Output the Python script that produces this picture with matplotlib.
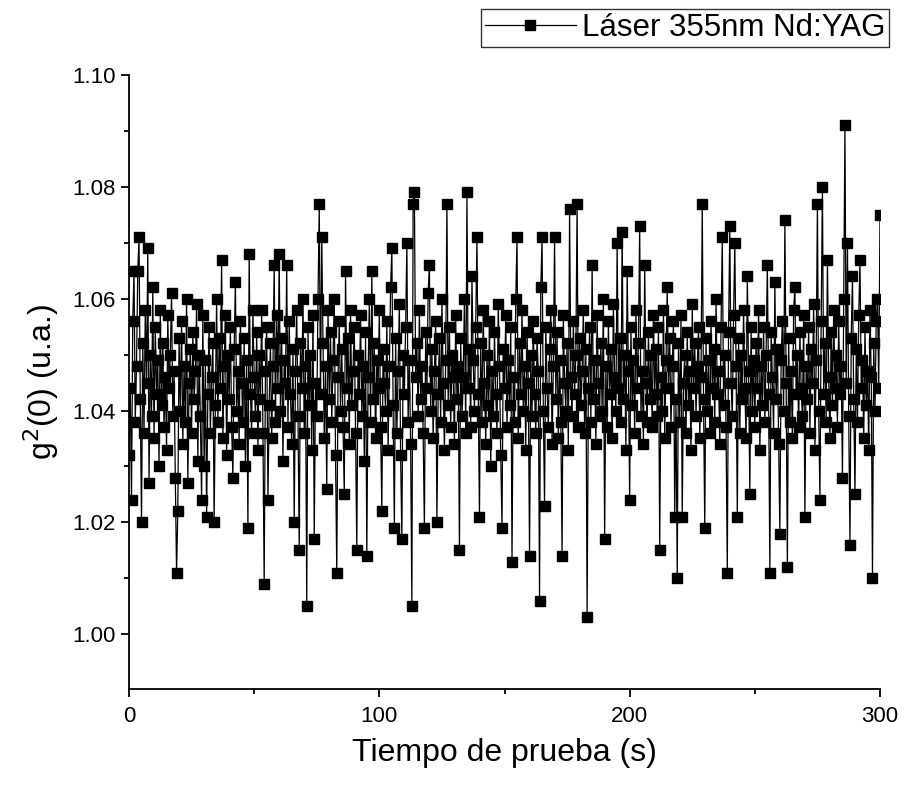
import numpy as np
import matplotlib
matplotlib.use("Agg")
import matplotlib.pyplot as plt
from matplotlib.ticker import MultipleLocator

plt.rcParams['font.family'] = ['Liberation Sans', 'DejaVu Sans']

# sampling step of the measurement (s)
t_step = 0.5

# g2(0) values, t = 0 ... 99.5 s
g2_part1 = [
    1.032, 1.044, 1.024, 1.056, 1.065, 1.038, 1.048, 1.065, 1.071, 1.042, 1.020, 1.052, 1.036, 1.058, 1.045, 1.069, 1.027, 1.050, 1.039, 1.062,
    1.035, 1.055, 1.043, 1.049, 1.030, 1.058, 1.041, 1.052, 1.037, 1.046, 1.033, 1.057, 1.044, 1.050, 1.061, 1.039, 1.047, 1.028, 1.011, 1.022,
    1.053, 1.040, 1.056, 1.034, 1.048, 1.038, 1.060, 1.027, 1.045, 1.051, 1.036, 1.054, 1.042, 1.047, 1.059, 1.031, 1.050, 1.039, 1.024, 1.057,
    1.030, 1.049, 1.021, 1.043, 1.055, 1.036, 1.046, 1.052, 1.020, 1.041, 1.060, 1.038, 1.053, 1.044, 1.067, 1.035, 1.048, 1.057, 1.032, 1.050,
    1.042, 1.055, 1.037, 1.028, 1.051, 1.063, 1.040, 1.047, 1.034, 1.056, 1.045, 1.038, 1.053, 1.030, 1.049, 1.019, 1.068, 1.043, 1.036, 1.058,
    1.046, 1.039, 1.054, 1.033, 1.050, 1.042, 1.058, 1.036, 1.009, 1.047, 1.055, 1.024, 1.041, 1.052, 1.035, 1.048, 1.066, 1.038, 1.057, 1.044,
    1.068, 1.040, 1.053, 1.031, 1.049, 1.045, 1.066, 1.037, 1.056, 1.043, 1.034, 1.051, 1.020, 1.047, 1.058, 1.039, 1.015, 1.052, 1.044, 1.060,
    1.036, 1.048, 1.005, 1.055, 1.041, 1.050, 1.033, 1.057, 1.017, 1.045, 1.039, 1.060, 1.077, 1.043, 1.071, 1.052, 1.035, 1.048, 1.026, 1.058,
    1.042, 1.054, 1.038, 1.049, 1.060, 1.032, 1.011, 1.046, 1.056, 1.040, 1.051, 1.037, 1.025, 1.065, 1.044, 1.053, 1.034, 1.058, 1.041, 1.047,
    1.055, 1.036, 1.015, 1.050, 1.043, 1.057, 1.039, 1.048, 1.031, 1.054, 1.014, 1.046, 1.060, 1.038, 1.065, 1.042, 1.052, 1.035, 1.049, 1.044,
]

# g2(0) values, t = 100 ... 199.5 s
g2_part2 = [
    1.058, 1.037, 1.022, 1.051, 1.045, 1.040, 1.056, 1.033, 1.048, 1.062, 1.069, 1.041, 1.019, 1.053, 1.036, 1.047, 1.059, 1.032, 1.017, 1.050,
    1.043, 1.055, 1.070, 1.038, 1.049, 1.034, 1.005, 1.077, 1.079, 1.046, 1.052, 1.039, 1.058, 1.042, 1.048, 1.036, 1.019, 1.054, 1.044, 1.061,
    1.066, 1.040, 1.051, 1.035, 1.047, 1.056, 1.020, 1.043, 1.053, 1.038, 1.060, 1.045, 1.033, 1.049, 1.077, 1.041, 1.055, 1.037, 1.050, 1.046,
    1.034, 1.057, 1.042, 1.048, 1.015, 1.053, 1.039, 1.046, 1.060, 1.036, 1.079, 1.044, 1.051, 1.037, 1.064, 1.049, 1.040, 1.055, 1.071, 1.043,
    1.021, 1.052, 1.038, 1.058, 1.045, 1.034, 1.050, 1.041, 1.056, 1.030, 1.047, 1.039, 1.054, 1.043, 1.036, 1.059, 1.048, 1.032, 1.019, 1.051,
    1.044, 1.057, 1.037, 1.049, 1.041, 1.055, 1.013, 1.046, 1.038, 1.060, 1.071, 1.035, 1.052, 1.043, 1.058, 1.040, 1.048, 1.033, 1.054, 1.045,
    1.014, 1.050, 1.039, 1.056, 1.043, 1.036, 1.053, 1.047, 1.006, 1.062, 1.071, 1.040, 1.023, 1.055, 1.044, 1.037, 1.051, 1.058, 1.034, 1.048,
    1.071, 1.042, 1.054, 1.035, 1.049, 1.038, 1.014, 1.057, 1.045, 1.040, 1.052, 1.033, 1.076, 1.046, 1.039, 1.056, 1.043, 1.050, 1.077, 1.037,
    1.053, 1.041, 1.047, 1.058, 1.036, 1.051, 1.003, 1.044, 1.055, 1.038, 1.066, 1.042, 1.049, 1.034, 1.057, 1.045, 1.039, 1.052, 1.040, 1.060,
    1.017, 1.048, 1.037, 1.056, 1.043, 1.051, 1.035, 1.059, 1.046, 1.040, 1.070, 1.044, 1.053, 1.038, 1.072, 1.042, 1.050, 1.033, 1.065, 1.047,
]

# g2(0) values, t = 200 ... 300 s
g2_part3 = [
    1.024, 1.055, 1.041, 1.049, 1.036, 1.058, 1.044, 1.052, 1.073, 1.039, 1.047, 1.034, 1.066, 1.045, 1.038, 1.054, 1.042, 1.050, 1.037, 1.057,
    1.043, 1.051, 1.039, 1.055, 1.015, 1.046, 1.040, 1.058, 1.035, 1.049, 1.062, 1.044, 1.053, 1.037, 1.048, 1.056, 1.021, 1.042, 1.010, 1.052,
    1.038, 1.057, 1.021, 1.045, 1.050, 1.036, 1.054, 1.041, 1.047, 1.033, 1.059, 1.044, 1.052, 1.039, 1.048, 1.055, 1.035, 1.046, 1.077, 1.042,
    1.019, 1.053, 1.040, 1.049, 1.036, 1.056, 1.044, 1.051, 1.038, 1.060, 1.043, 1.047, 1.034, 1.055, 1.071, 1.041, 1.050, 1.037, 1.011, 1.054,
    1.073, 1.045, 1.039, 1.057, 1.070, 1.048, 1.021, 1.053, 1.036, 1.050, 1.042, 1.058, 1.044, 1.035, 1.064, 1.047, 1.025, 1.055, 1.040, 1.049,
    1.037, 1.052, 1.044, 1.058, 1.033, 1.048, 1.041, 1.055, 1.038, 1.050, 1.066, 1.043, 1.011, 1.054, 1.046, 1.036, 1.063, 1.042, 1.051, 1.034,
    1.018, 1.049, 1.056, 1.040, 1.074, 1.045, 1.012, 1.053, 1.038, 1.047, 1.035, 1.058, 1.062, 1.043, 1.050, 1.037, 1.054, 1.044, 1.039, 1.057,
    1.021, 1.048, 1.042, 1.055, 1.036, 1.051, 1.045, 1.059, 1.033, 1.049, 1.077, 1.040, 1.024, 1.056, 1.080, 1.043, 1.052, 1.038, 1.067, 1.046,
    1.035, 1.054, 1.041, 1.058, 1.044, 1.050, 1.037, 1.056, 1.043, 1.048, 1.028, 1.060, 1.091, 1.045, 1.070, 1.039, 1.016, 1.053, 1.064, 1.042,
    1.025, 1.051, 1.038, 1.057, 1.067, 1.044, 1.049, 1.035, 1.055, 1.041, 1.047, 1.033, 1.058, 1.046, 1.010, 1.052, 1.040, 1.056, 1.060, 1.044,
    1.075,
]

series_label = "Láser 355nm Nd:YAG"
x_label = "Tiempo de prueba (s)"
y_label = "g$^2$(0) (u.a.)"

g2 = np.array(g2_part1 + g2_part2 + g2_part3)
t = np.arange(len(g2)) * t_step

fig = plt.figure(figsize=(9.05, 7.86), dpi=100)
ax = fig.add_axes([129/905, 1 - 689/786, (880 - 129)/905, (689 - 75)/786])

ax.plot(t, g2, color='black', linewidth=0.9, marker='s', markersize=7,
        markerfacecolor='black', markeredgecolor='black', label=series_label)

ax.set_xlim(0, 300)
ax.set_ylim(0.9902, 1.100)
ax.xaxis.set_major_locator(MultipleLocator(100))
ax.xaxis.set_minor_locator(MultipleLocator(50))
ax.yaxis.set_major_locator(MultipleLocator(0.02))
ax.yaxis.set_minor_locator(MultipleLocator(0.01))
ax.yaxis.set_major_formatter(matplotlib.ticker.FormatStrFormatter('%.2f'))

for side in ('top', 'right'):
    ax.spines[side].set_visible(False)
for side in ('left', 'bottom'):
    ax.spines[side].set_linewidth(1.3)

ax.tick_params(which='major', direction='out', length=6, width=1.3, labelsize=16)
ax.tick_params(which='minor', direction='out', length=3.5, width=1.3)
ax.tick_params(axis='x', pad=6)

ax.set_xlabel(x_label, fontsize=23, labelpad=8)
ax.set_ylabel(y_label, fontsize=23, labelpad=8)

leg = fig.legend(loc='upper right', bbox_to_anchor=(889/905, 1 - 9/786),
                 fontsize=22.5, frameon=True, fancybox=False, handlelength=2.9,
                 borderpad=0.12, handletextpad=0.2, borderaxespad=0)
leg.get_frame().set_edgecolor('black')
leg.get_frame().set_linewidth(1.0)

fig.savefig("out.png", dpi=100)
